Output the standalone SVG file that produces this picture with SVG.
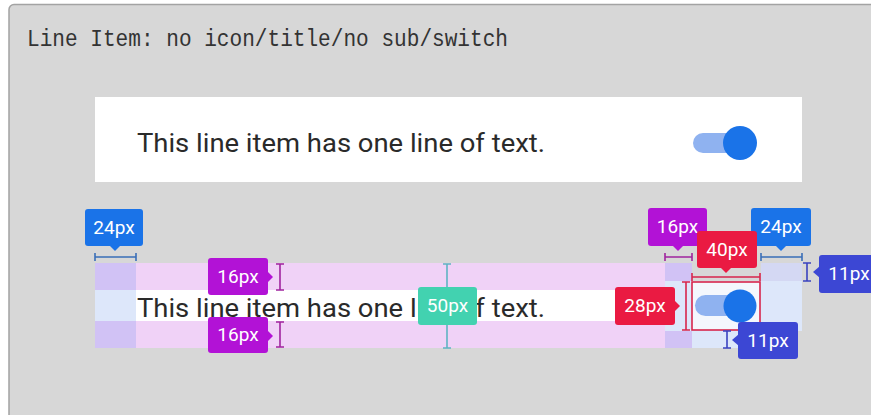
<svg xmlns="http://www.w3.org/2000/svg" width="871" height="415" viewBox="0 0 871 415">
<style>
.lbl{font-family:Roboto,"Noto Sans",sans-serif;font-size:19px;fill:#fff;text-anchor:middle}
.row{font-family:Roboto,"Noto Sans",sans-serif;font-size:26px;fill:#2a2a2a}
.br{fill:none;stroke-width:1.6}
.blue{fill:#1a73e8}.mag{fill:#b212d6}.red{fill:#ea1a42}.ind{fill:#3c47d4}.teal{fill:#42d2b0}
</style>
<rect x="0" y="0" width="871" height="415" fill="#ffffff"/>
<rect id="panel" x="9" y="4.5" width="880" height="420" rx="5" fill="#d7d7d7" stroke="#a3a3a3" stroke-width="1.5"/>
<g id="title"><text x="27" y="46" font-family="'Liberation Mono',monospace" font-size="23" fill="#333" textLength="481" lengthAdjust="spacingAndGlyphs">Line Item: no icon/title/no sub/switch</text></g>
<g id="card">
<rect x="95" y="97" width="707" height="85" fill="#ffffff"/>
<text class="row" x="137" y="152" textLength="408" lengthAdjust="spacingAndGlyphs">This line item has one line of text.</text>
<rect x="693" y="133" width="50" height="20" rx="10" fill="#8fb2f0"/>
<circle cx="740" cy="143" r="17" fill="#1a73e8"/>
</g>
<g id="spec-row">
<rect x="136" y="263" width="529" height="85" fill="#f0d2f7"/>
<rect x="136" y="290" width="529" height="31" fill="#ffffff"/>
<rect x="95" y="263" width="41" height="27" fill="#d1c2f5"/>
<rect x="95" y="290" width="41" height="31" fill="#dde7fa"/>
<rect x="95" y="321" width="41" height="27" fill="#d1c2f5"/>
<rect x="665" y="281" width="137" height="50" fill="#dde7fa"/>
<rect x="692" y="331" width="68" height="17" fill="#dde7fa"/>
<rect x="665" y="263" width="27" height="18" fill="#d1c2f5"/>
<rect x="665" y="331" width="27" height="17" fill="#d1c2f5"/>
<rect x="761" y="263" width="41" height="18" fill="#d4d8f3"/>
<rect x="692" y="282" width="68" height="48" fill="#f4f7fd"/>
<text class="row" x="137" y="317" textLength="408" lengthAdjust="spacingAndGlyphs">This line item has one line of text.</text>
<rect x="695" y="295" width="48" height="21" rx="10.5" fill="#8fb2f0"/>
<circle cx="740" cy="306" r="16.5" fill="#1a73e8"/>
<rect x="692" y="282" width="68" height="48" fill="none" stroke="#d8264c" stroke-width="1.6"/>
</g>
<g id="connectors">
<path class="br" stroke="#3a6fb8" d="M95 257H136M95 253V261M136 253V261"/>
<path class="br" stroke="#a0249f" d="M280 264V290M276 264H284M276 290H284"/>
<path class="br" stroke="#a0249f" d="M280 322V347M276 322H284M276 347H284"/>
<path class="br" stroke="#5fb4c2" d="M447 264V348M443 264H451M443 348H451"/>
<path class="br" stroke="#d8264c" d="M686 282V330M682 282H690M682 330H690"/>
<path class="br" stroke="#a0249f" d="M665 257H692M665 253V261M692 253V261"/>
<path class="br" stroke="#d8264c" d="M692 277H760M692 273V281M760 273V281"/>
<path class="br" stroke="#3a6fb8" d="M761 257H802M761 253V261M802 253V261"/>
<path class="br" stroke="#3a43c0" d="M807 263V281M803 263H811M803 281H811"/>
<path class="br" stroke="#3a43c0" d="M727 331V348M723 331H731M723 348H731"/>
</g>
<g id="label-24-left"><rect class="blue" x="85" y="209" width="58" height="37" rx="3"/><path class="blue" d="M109 245L115 251L121 245Z"/><text class="lbl" x="114" y="234">24px</text></g>
<g id="label-16-top"><rect class="mag" x="208" y="258" width="60" height="37" rx="3"/><path class="mag" d="M267 271L273 277L267 283Z"/><text class="lbl" x="238" y="283">16px</text></g>
<g id="label-16-bottom"><rect class="mag" x="208" y="317" width="60" height="36" rx="3"/><path class="mag" d="M267 330L273 336L267 342Z"/><text class="lbl" x="238" y="341">16px</text></g>
<g id="label-50"><rect class="teal" x="418" y="287" width="59" height="38" rx="3"/><text class="lbl" x="447.5" y="312">50px</text></g>
<g id="label-28"><rect class="red" x="615" y="287" width="60" height="38" rx="3"/><path class="red" d="M674 300L680 306L674 312Z"/><text class="lbl" x="645" y="312">28px</text></g>
<g id="label-16-right"><rect class="mag" x="648" y="208" width="59" height="38" rx="3"/><path class="mag" d="M672 245L678 251L684 245Z"/><text class="lbl" x="677.5" y="233">16px</text></g>
<g id="label-24-right"><rect class="blue" x="751" y="208" width="60" height="38" rx="3"/><path class="blue" d="M775 245L781 251L787 245Z"/><text class="lbl" x="781" y="233">24px</text></g>
<g id="label-40"><rect class="red" x="697" y="231" width="60" height="37" rx="3"/><path class="red" d="M720 267L726 273L732 267Z"/><text class="lbl" x="727" y="256">40px</text></g>
<g id="label-11-top"><rect class="ind" x="819" y="255" width="60" height="38" rx="3"/><path class="ind" d="M820 266L813 272L820 278Z"/><text class="lbl" x="849" y="280">11px</text></g>
<g id="label-11-bottom"><rect class="ind" x="738" y="322" width="60" height="37" rx="3"/><path class="ind" d="M739 334L732 340L739 346Z"/><text class="lbl" x="768" y="347">11px</text></g>
</svg>
